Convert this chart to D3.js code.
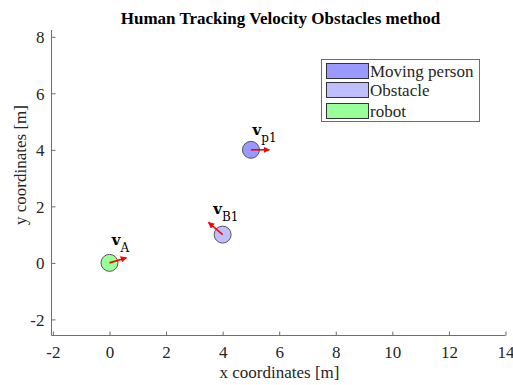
<!DOCTYPE html>
<html>
<head>
<meta charset="utf-8">
<script src="https://cdn.jsdelivr.net/npm/d3@7"></script>
<style>
  body { margin: 0; background: #fff; }
  text { font-family: "Liberation Serif", "Times New Roman", serif; }
</style>
</head>
<body>
<div id="main"></div>
<script>
// scene data (metres)
const names = ["Moving person", "Obstacle", "robot"];
const colors = ["#9999ff", "#bfbfff", "#99ff99"];
const posX = [5, 4, 0];
const posY = [4, 1, 0];
const velX = [0.65, -0.5, 0.6];
const velY = [0, 0.43, 0.18];
const subLabels = ["p1", "B1", "A"];
const labelDx = [0.06, -0.33, 0.08];
const labelDy = [0.52, 0.72, 0.65];
const radius = 0.3;
const xTicks = [-2, 0, 2, 4, 6, 8, 10, 12, 14];
const yTicks = [-2, 0, 2, 4, 6, 8];

const ctx = { w: 513, h: 385 };

const x = d3.scaleLinear().domain([-2.05, 14]).range([51.5, 505.5]);
const y = d3.scaleLinear().domain([-2.57, 8.24]).range([335.5, 30]);
const k = x(1) - x(0);

const svg = d3.select("#main").append("svg")
    .attr("width", ctx.w)
    .attr("height", ctx.h);

svg.append("defs").append("marker")
    .attr("id", "head")
    .attr("viewBox", "0 0 10 10")
    .attr("refX", 9).attr("refY", 5)
    .attr("markerWidth", 4).attr("markerHeight", 4)
    .attr("markerUnits", "strokeWidth")
    .attr("orient", "auto")
  .append("path")
    .attr("d", "M0,0 L10,5 L0,10 z")
    .attr("fill", "#ff0000");

// axes (MATLAB style, ticks pointing inward, no box)
const xAxis = svg.append("g")
    .attr("transform", `translate(0,${y.range()[0]})`)
    .call(d3.axisTop(x).tickValues(xTicks).tickSize(4).tickFormat(d => String(d)));
xAxis.selectAll("text").attr("y", 22).attr("dy", 0)
    .style("font-size", "17px").attr("fill", "#262626");
const yAxis = svg.append("g")
    .attr("transform", `translate(${x.range()[0]},0)`)
    .call(d3.axisRight(y).tickValues(yTicks).tickSize(4).tickFormat(d => String(d)));
yAxis.selectAll("text").attr("x", -7).attr("dy", "0.35em").attr("text-anchor", "end")
    .style("font-size", "17px").attr("fill", "#262626");
svg.selectAll(".domain").attr("stroke", "#6e6e6e");
svg.selectAll(".tick line").attr("stroke", "#6e6e6e");
xAxis.select(".domain").attr("d", `M${x.range()[0]},0H${x.range()[1]}`);
yAxis.select(".domain").attr("d", `M0,${y.range()[0]}V${y.range()[1]}`);
xAxis.attr("font-family", null).attr("font-size", null);
yAxis.attr("font-family", null).attr("font-size", null);

// titles
svg.append("text")
    .attr("x", 280.5).attr("y", 24)
    .attr("text-anchor", "middle")
    .style("font-size", "17px").style("font-weight", "bold")
    .text("Human Tracking Velocity Obstacles method");
svg.append("text")
    .attr("x", 279.5).attr("y", 378)
    .attr("text-anchor", "middle")
    .style("font-size", "17px").attr("fill", "#262626")
    .text("x coordinates [m]");
svg.append("text")
    .attr("transform", "translate(26,165) rotate(-90)")
    .attr("text-anchor", "middle")
    .style("font-size", "17px").attr("fill", "#262626")
    .text("y coordinates [m]");

// objects
const idx = d3.range(names.length);
svg.append("g").selectAll("circle")
    .data(idx)
    .join("circle")
    .attr("cx", i => x(posX[i]))
    .attr("cy", i => y(posY[i]))
    .attr("r", radius * k)
    .attr("fill", i => colors[i])
    .attr("stroke", "#555")
    .attr("stroke-width", 1);

svg.append("g").selectAll("line")
    .data(idx)
    .join("line")
    .attr("x1", i => x(posX[i]))
    .attr("y1", i => y(posY[i]))
    .attr("x2", i => x(posX[i] + velX[i]))
    .attr("y2", i => y(posY[i] + velY[i]))
    .attr("stroke", "#ff0000")
    .attr("stroke-width", 1.6)
    .attr("marker-end", "url(#head)");

const labels = svg.append("g").selectAll("text")
    .data(idx)
    .join("text")
    .attr("x", i => x(posX[i] + labelDx[i]))
    .attr("y", i => y(posY[i] + labelDy[i]))
    .style("font-family", "'DejaVu Serif', serif");
labels.append("tspan")
    .style("font-size", "15px").style("font-weight", "bold")
    .text("v");
labels.append("tspan")
    .attr("dy", 7)
    .style("font-size", "12px")
    .text(i => subLabels[i]);

// legend
const lg = svg.append("g");
lg.append("rect")
    .attr("x", 321.5).attr("y", 59.5)
    .attr("width", 158).attr("height", 62)
    .attr("fill", "#fff").attr("stroke", "#6e6e6e");
const rowY = [71, 90, 111];
const rows = lg.selectAll("g.row")
    .data(idx)
    .join("g")
    .attr("class", "row")
    .attr("transform", i => `translate(0,${rowY[i]})`);
rows.append("rect")
    .attr("x", 326.5).attr("y", -7.5)
    .attr("width", 42).attr("height", 15)
    .attr("fill", i => colors[i])
    .attr("stroke", "#333");
rows.append("text")
    .attr("x", 370).attr("y", 5.5)
    .style("font-size", "17px").attr("fill", "#262626")
    .text(i => names[i]);
</script>
</body>
</html>
